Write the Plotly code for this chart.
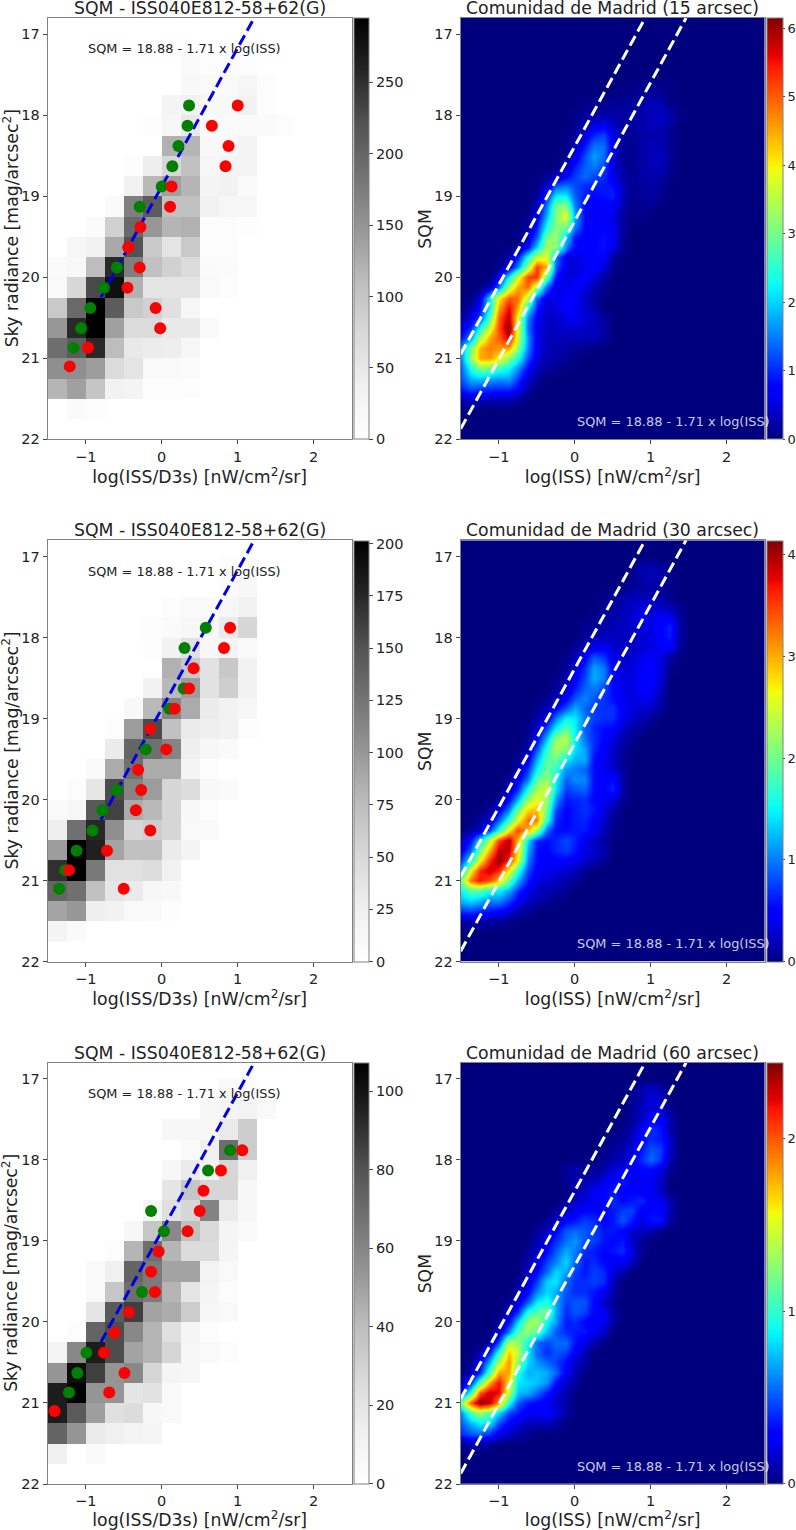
import plotly.graph_objects as go

FONT = "DejaVu Sans"
W, H = 796, 1530

# ---------- Left-hand 2D histograms: bin lower edge in SQM -> (first column, counts)
hist_15 = {
    17.25: (7, [12, 8, 8, 8]),
    17.5: (7, [18, 12, 14, 22, 8]),
    17.75: (6, [26, 32, 18, 18, 32, 8]),
    18.0: (5, [5, 22, 48, 12, 12, 14, 12, 8]),
    18.25: (6, [122, 118, 18, 18, 26]),
    18.5: (4, [5, 40, 77, 105, 22, 26, 26]),
    18.75: (4, [32, 114, 138, 118, 26, 32, 12]),
    19.0: (3, [12, 172, 210, 105, 105, 32, 22, 22]),
    19.25: (2, [10, 84, 195, 147, 118, 122, 8, 8, 5]),
    19.5: (1, [22, 32, 130, 220, 95, 56, 95, 8, 8]),
    19.75: (0, [12, 18, 110, 255, 172, 105, 84, 70, 12, 10]),
    20.0: (0, [14, 77, 228, 280, 122, 56, 56, 56, 14, 8]),
    20.25: (0, [95, 195, 295, 210, 95, 84, 62, 22]),
    20.5: (0, [147, 255, 295, 138, 70, 70, 48, 48, 12]),
    20.75: (0, [190, 210, 255, 110, 48, 44, 40, 22]),
    21.0: (0, [155, 155, 142, 70, 56, 14, 14, 10]),
    21.25: (0, [118, 138, 100, 32, 26, 8, 8, 5]),
    21.5: (1, [12, 8]),
}
hist_30 = {
    17.0: (9, [3, 3]),
    17.25: (9, [5, 14]),
    17.5: (6, [5, 10, 8, 14, 22]),
    17.75: (5, [5, 8, 14, 14, 31, 53]),
    18.0: (5, [3, 22, 42, 14, 18, 8]),
    18.25: (6, [83, 66, 40, 66, 22]),
    18.5: (5, [22, 78, 97, 40, 60, 22]),
    18.75: (4, [12, 78, 113, 87, 31, 22, 14]),
    19.0: (3, [5, 97, 155, 72, 31, 26, 22, 5]),
    19.25: (3, [31, 137, 128, 113, 26, 14, 8]),
    19.5: (2, [10, 87, 128, 87, 87, 18, 5]),
    19.75: (1, [5, 36, 155, 113, 97, 53, 46, 12, 8]),
    20.0: (0, [8, 14, 146, 160, 87, 78, 53, 12, 5]),
    20.25: (0, [26, 128, 175, 106, 53, 60, 53, 10, 8]),
    20.5: (0, [97, 201, 180, 92, 72, 72, 31, 18]),
    20.75: (0, [170, 201, 122, 42, 42, 46, 22]),
    21.0: (0, [137, 128, 72, 36, 31, 14, 12]),
    21.25: (0, [92, 100, 26, 22, 10, 8, 3]),
    21.5: (0, [18, 8]),
}
hist_60 = {
    17.0: (9, [5, 3]),
    17.25: (8, [7, 9, 11, 5]),
    17.5: (6, [7, 7, 7, 17, 33]),
    17.75: (7, [5, 13, 69, 33]),
    18.0: (6, [7, 17, 11, 28, 13]),
    18.25: (6, [20, 36, 28, 28, 7]),
    18.5: (5, [9, 23, 28, 61, 17, 7]),
    18.75: (4, [7, 36, 59, 39, 26, 9, 5]),
    19.0: (3, [3, 43, 69, 43, 25, 25, 9]),
    19.25: (2, [5, 13, 73, 64, 49, 49, 11, 5]),
    19.5: (2, [5, 36, 69, 64, 43, 20, 9, 3]),
    19.75: (2, [20, 77, 86, 49, 46, 33, 7, 5]),
    20.0: (1, [3, 73, 82, 59, 43, 23, 9, 3]),
    20.25: (0, [11, 59, 97, 82, 49, 43, 28, 7, 5, 3]),
    20.5: (0, [54, 102, 86, 54, 59, 28, 9, 7]),
    20.75: (0, [97, 107, 54, 54, 20, 22, 5]),
    21.0: (0, [97, 77, 51, 23, 25, 7, 5]),
    21.25: (0, [73, 54, 17, 13, 11, 9]),
    21.5: (0, [13, 0, 5]),
}
hist_x_edges = [-1.5 + 0.25 * i for i in range(14)]
hist_y_edges = [17.0 + 0.25 * i for i in range(20)]

# ---------- Right-hand density maps: SQM row -> (first column, density)
dens_x = [-1.5 + 0.125 * i for i in range(33)]
dens_y = [16.75 + 0.125 * i for i in range(43)]

dens_15 = {
    17.625: (18, [.03, .06, .1, .06, .03]),
    17.75: (16, [.03, .05, .08, .1, .18, .14, .04]),
    17.875: (13, [.05, .08, .1, .12, .15, .18, .22, .32, .28, .07]),
    18.0: (12, [.05, .15, .2, .2, .22, .18, .18, .22, .33, .38, .28, .07]),
    18.125: (12, [.08, .25, .5, .65, .35, .15, .18, .24, .3, .3, .15]),
    18.25: (11, [.03, .15, .5, 1.0, 1.15, .6, .15, .1, .2, .25, .25, .12]),
    18.375: (11, [.05, .3, .9, 1.45, 1.4, .6, .1, .1, .2, .28, .28, .1]),
    18.5: (11, [.1, .5, 1.2, 1.7, 1.4, .5, .1, .1, .2, .3, .33, .12]),
    18.625: (10, [.05, .3, .9, 1.3, 1.5, 1.2, .5, .15, .1, .2, .3, .3, .1]),
    18.75: (9, [.1, .3, .7, 1.1, 1.4, 1.2, 1.0, .55, .2, .1, .2, .25, .2, .05]),
    18.875: (8, [.05, .4, 1.3, 1.5, 1.2, 1.0, .9, .9, .85, .3, .1, .15, .2, .15]),
    19.0: (8, [.15, 1.0, 2.2, 2.2, 1.3, .9, .8, .85, .95, .35, .08, .15, .2, .1]),
    19.125: (8, [.35, 1.5, 3.0, 3.2, 1.5, .8, .65, .7, .65, .25, .05, .1, .12]),
    19.25: (7, [.1, .6, 1.9, 3.1, 3.9, 1.8, .8, .65, .65, .55, .15, .05, .05]),
    19.375: (7, [.2, .9, 2.4, 3.1, 3.0, 1.5, .75, .65, .7, .6, .15]),
    19.5: (6, [.05, .4, 1.3, 3.0, 3.3, 2.0, .9, .7, .75, .85, .65, .12]),
    19.625: (6, [.1, .8, 2.0, 3.4, 3.2, 1.6, .75, .65, .75, .85, .6, .1]),
    19.75: (5, [.2, .9, 2.4, 3.6, 3.8, 1.5, .55, .5, .65, .8, .7, .15]),
    19.875: (4, [.1, .5, 1.6, 3.3, 5.2, 4.4, 1.3, .55, .45, .6, .75, .5, .1]),
    20.0: (4, [.6, 2.2, 3.7, 5.2, 5.3, 2.8, .8, .5, .55, .7, .5, .2]),
    20.125: (3, [.3, 1.4, 3.4, 4.5, 4.9, 3.3, 1.3, .55, .55, .7, .55, .25, .1]),
    20.25: (2, [.5, 2.2, 4.0, 5.0, 4.9, 3.5, 1.3, .5, .55, .75, .65, .35, .15]),
    20.375: (0, [.05, .25, .8, 2.2, 4.5, 5.6, 4.5, 2.3, .9, .4, .5, .7, .65, .45, .25]),
    20.5: (0, [.2, .5, 1.2, 2.8, 5.0, 5.9, 3.8, 1.5, .7, .35, .4, .55, .65, .45, .35, .15]),
    20.625: (0, [.5, 1.0, 2.3, 3.7, 5.1, 6.15, 3.8, 1.4, .6, .35, .35, .4, .4, .4, .35, .2]),
    20.75: (0, [.8, 1.6, 3.4, 4.5, 5.0, 5.7, 3.6, 1.6, .6, .3, .3, .3, .28, .28, .28, .15]),
    20.875: (0, [1.6, 3.0, 4.4, 4.8, 4.6, 4.5, 3.2, 1.5, .6, .3, .25, .2, .15, .1]),
    21.0: (0, [1.5, 3.2, 4.5, 4.6, 4.0, 3.2, 2.4, 1.2, .5, .25, .2, .15]),
    21.125: (0, [1.3, 2.4, 3.1, 3.0, 2.6, 2.3, 1.6, .8, .3, .15, .1]),
    21.25: (0, [1.2, 1.8, 1.9, 1.7, 1.6, 1.7, 1.1, .4, .15]),
    21.375: (0, [.9, 1.2, 1.1, 1.0, 1.0, 1.0, .7, .2]),
    21.5: (0, [.3, .4, .35, .3, .3, .3, .15]),
}
dens_30 = {
    17.125: (18, [.05, .15, .2, .1]),
    17.25: (18, [.05, .15, .2, .15, .05]),
    17.375: (16, [.03, .05, .1, .12, .15, .1, .03]),
    17.5: (15, [.05, .1, .15, .2, .2, .2, .15, .05]),
    17.625: (15, [.05, .12, .2, .25, .35, .3, .25, .2, .05]),
    17.75: (14, [.05, .1, .15, .2, .3, .4, .35, .45, .45, .1]),
    17.875: (13, [.08, .12, .15, .2, .22, .25, .35, .35, .5, .65, .15]),
    18.0: (13, [.1, .2, .25, .22, .22, .25, .3, .35, .5, .6, .12]),
    18.125: (12, [.1, .2, .4, .45, .3, .25, .25, .3, .35, .45, .45, .1]),
    18.25: (11, [.05, .2, .5, .9, .75, .4, .25, .3, .4, .45, .35, .1]),
    18.375: (11, [.1, .3, .7, 1.15, 1.0, .45, .3, .35, .45, .5, .35, .05]),
    18.5: (10, [.05, .15, .45, .8, 1.2, 1.0, .5, .35, .35, .5, .5, .3]),
    18.625: (10, [.1, .25, .6, .9, 1.0, .8, .5, .4, .35, .45, .45, .25]),
    18.75: (9, [.05, .2, .45, .85, 1.05, .85, .7, .55, .4, .35, .4, .4, .15]),
    18.875: (8, [.05, .2, .5, .85, 1.2, .9, .75, .7, .7, .45, .35, .3, .25, .1]),
    19.0: (8, [.15, .4, 1.0, 1.5, 1.45, 1.0, .75, .7, .7, .4, .25, .2, .1]),
    19.125: (7, [.05, .3, .8, 1.5, 1.9, 1.5, .9, .65, .55, .5, .25, .15, .08]),
    19.25: (7, [.1, .5, 1.3, 2.2, 2.4, 1.5, .95, .7, .5, .35, .15, .08]),
    19.375: (7, [.2, .85, 1.7, 2.3, 2.1, 1.4, 1.15, .65, .45, .25, .12]),
    19.5: (6, [.1, .4, 1.2, 1.9, 1.95, 1.5, 1.2, 1.2, .55, .4, .25, .08]),
    19.625: (6, [.2, .7, 1.5, 2.0, 1.7, 1.1, 1.0, .9, .55, .4, .3, .08]),
    19.75: (5, [.1, .4, 1.0, 1.9, 2.2, 1.5, .9, 1.05, 1.05, .55, .45, .55, .15]),
    19.875: (5, [.2, .7, 1.6, 2.3, 2.5, 1.4, .75, .85, .9, .55, .5, .65, .15]),
    20.0: (4, [.1, .5, 1.2, 2.2, 2.6, 2.2, 1.1, .6, .65, .7, .5, .4, .35, .08]),
    20.125: (3, [.1, .35, 1.0, 2.0, 2.8, 2.9, 2.0, .8, .5, .6, .7, .6, .35, .15]),
    20.25: (2, [.1, .3, .9, 1.7, 2.6, 3.3, 3.2, 1.7, .65, .5, .6, .65, .5, .25, .08]),
    20.375: (1, [.1, .3, .8, 1.6, 2.7, 3.5, 3.0, 2.2, .9, .55, .55, .6, .6, .42, .2, .08]),
    20.5: (0, [.2, .6, 1.4, 2.4, 3.5, 4.0, 2.9, 1.4, .65, .55, .65, .8, .65, .4, .25, .12]),
    20.625: (0, [.4, .9, 2.0, 3.0, 3.9, 3.9, 2.8, 1.2, .55, .5, .65, .75, .6, .35, .28, .18]),
    20.75: (0, [.7, 1.5, 2.6, 3.6, 4.1, 3.6, 2.6, 1.0, .55, .45, .5, .5, .4, .3, .2, .08]),
    20.875: (0, [1.2, 2.6, 3.6, 3.9, 3.6, 2.7, 1.7, .8, .45, .4, .35, .3, .2, .1]),
    21.0: (0, [2.0, 3.3, 3.7, 3.4, 2.9, 2.0, 1.2, .6, .35, .3, .25, .15, .08]),
    21.125: (0, [1.5, 1.9, 1.9, 1.6, 1.5, 1.2, .7, .4, .25, .2, .15, .08]),
    21.25: (0, [1.2, 1.35, 1.2, 1.0, 1.0, .75, .4, .25, .15, .08]),
    21.375: (0, [.7, .75, .65, .55, .5, .35, .15, .08]),
    21.5: (0, [.1, .15, .15, .1, .1, .05]),
}
dens_60 = {
    17.125: (18, [.03, .1, .15, .1]),
    17.25: (18, [.03, .1, .2, .15]),
    17.375: (18, [.05, .15, .2, .2, .05]),
    17.5: (18, [.05, .15, .3, .3, .1]),
    17.625: (17, [.03, .1, .3, .4, .35, .1]),
    17.75: (16, [.03, .05, .15, .3, .4, .35, .15]),
    17.875: (15, [.03, .05, .1, .2, .35, .5, .45, .15]),
    18.0: (14, [.03, .05, .1, .12, .25, .4, .55, .4, .1]),
    18.125: (11, [.05, .1, .05, .05, .1, .2, .25, .3, .3, .3, .2, .05]),
    18.25: (11, [.05, .1, .1, .12, .2, .3, .35, .3, .25, .25, .15]),
    18.375: (12, [.1, .15, .25, .3, .35, .3, .3, .25, .25, .15]),
    18.5: (11, [.05, .15, .2, .25, .3, .4, .3, .35, .4, .25, .25, .1]),
    18.625: (10, [.05, .15, .25, .3, .3, .3, .35, .45, .45, .25, .3, .3, .1]),
    18.75: (9, [.05, .15, .3, .35, .45, .4, .3, .35, .5, .35, .2, .35, .35, .05]),
    18.875: (8, [.05, .15, .3, .5, .55, .5, .45, .35, .35, .3, .15, .15, .1]),
    19.0: (8, [.1, .25, .4, .55, .65, .5, .45, .35, .3, .35, .15, .05]),
    19.125: (7, [.05, .15, .3, .5, .7, .6, .4, .35, .3, .35, .4, .2, .05]),
    19.25: (7, [.1, .2, .45, .6, .8, .55, .35, .4, .3, .25, .25, .15]),
    19.375: (7, [.15, .3, .55, .8, .7, .45, .35, .45, .4, .2, .1]),
    19.5: (6, [.05, .2, .45, .8, .85, .55, .4, .4, .45, .4, .12]),
    19.625: (6, [.1, .3, .6, .8, .7, .5, .4, .4, .35, .25, .08]),
    19.75: (5, [.05, .2, .5, .85, .95, .7, .45, .5, .5, .3, .15, .05]),
    19.875: (5, [.15, .4, .95, 1.1, 1.2, .7, .4, .5, .45, .3, .25, .08]),
    20.0: (4, [.05, .3, .8, 1.3, 1.35, .9, .65, .35, .4, .3, .25, .25, .08]),
    20.125: (4, [.15, .6, 1.1, 1.3, 1.1, .75, .5, .4, .35, .35, .25, .15]),
    20.25: (3, [.05, .5, 1.4, 1.3, .9, .55, .45, .55, .55, .35, .2, .1]),
    20.375: (2, [.1, .4, 1.0, 1.7, 1.4, .85, .55, .4, .5, .45, .25, .12]),
    20.5: (1, [.05, .25, .75, 1.4, 1.85, 1.25, .8, .65, .55, .45, .3, .15, .08]),
    20.625: (1, [.1, .4, 1.1, 1.8, 1.8, .95, .7, .75, .7, .55, .25, .12]),
    20.75: (0, [.1, .4, 1.1, 1.8, 2.2, 1.6, .85, .8, .75, .65, .3, .15, .08]),
    20.875: (0, [.3, 1.0, 2.0, 2.3, 2.2, 1.4, .75, .7, .55, .35, .2, .12]),
    21.0: (0, [1.2, 2.0, 2.44, 2.3, 1.8, .95, .5, .35, .3, .25, .15, .08]),
    21.125: (0, [.6, 1.1, 1.3, 1.1, .8, .45, .35, .25, .25, .3, .2, .08]),
    21.25: (0, [.5, .7, .85, .8, .45, .28, .18, .12, .12, .12, .08]),
    21.375: (0, [.4, .5, .55, .4, .25, .15, .08, .05]),
    21.5: (0, [.05, .1, .1, .05]),
}

# ---------- Sample points
sqm_levels = [17.88, 18.13, 18.38, 18.63, 18.88, 19.13, 19.38, 19.63, 19.88, 20.13, 20.38, 20.63, 20.87, 21.1]

green_15_x = [.36, .34, .22, .14, 0, -.29, -.59, -.76, -.94, -1.06, -1.16]
green_15_y = [17.88, 18.13, 18.38, 18.63, 18.88, 19.13, 19.88, 20.13, 20.38, 20.63, 20.87]
red_15_x = [1.0, .66, .88, .84, .13, .11, -.28, -.44, -.29, -.45, -.08, -.02, -.97, -1.21]

green_30_x = [.58, .30, .29, .10, -.21, -.59, -.78, -.91, -1.12, -1.27, -1.35]
green_30_y = [17.88, 18.13, 18.63, 18.88, 19.38, 19.88, 20.13, 20.38, 20.63, 20.87, 21.1]
red_30_x = [.90, .82, .42, .36, .17, -.15, .06, -.31, -.27, -.34, -.15, -.72, -1.22, -.5]

green_60_x = [.90, .61, -.14, .03, -.26, -.99, -1.11, -1.22]
green_60_y = [17.88, 18.13, 18.63, 18.88, 19.63, 20.38, 20.63, 20.87]
red_60_x = [1.06, .78, .55, .50, .34, -.04, -.14, -.09, -.43, -.62, -.76, -.49, -.69, -1.41]

# ---------- Fit lines
fit_x = [-0.8, 1.216]
fit_y = [20.248, 16.8]
upper_x = [-1.5, 0.927]
upper_y = [20.95, 16.8]
lower_x = [-1.5, 1.465]
lower_y = [21.87, 16.8]

# ---------- Text
left_title = "SQM - ISS040E812-58+62(G)"
right_titles = ["Comunidad de Madrid (15 arcsec)", "Comunidad de Madrid (30 arcsec)", "Comunidad de Madrid (60 arcsec)"]
formula = "SQM = 18.88 - 1.71 x log(ISS)"
left_xlabel = "log(ISS/D3s) [nW/cm<sup>2</sup>/sr]"
right_xlabel = "log(ISS) [nW/cm<sup>2</sup>/sr]"
left_ylabel = "Sky radiance [mag/arcsec<sup>2</sup>]"
right_ylabel = "SQM"

x_ticks = [-1, 0, 1, 2]
y_ticks = [17, 18, 19, 20, 21, 22]

greys = [[0, "#ffffff"], [.125, "#f0f0f0"], [.25, "#d9d9d9"], [.375, "#bdbdbd"], [.5, "#969696"],
         [.625, "#737373"], [.75, "#525252"], [.875, "#252525"], [1, "#000000"]]
jet = [[0, "#00007f"], [.11, "#0000ff"], [.125, "#0000ff"], [.35, "#00f0ff"], [.375, "#0fffef"],
       [.5, "#7fff7f"], [.64, "#efff0f"], [.66, "#ffea00"], [.89, "#ff1300"], [.91, "#e80000"], [1, "#7f0000"]]

rows_px = [(18.0, 439.3), (540.3, 961.7), (1062.7, 1484.0)]
left_x_px = (47.7, 351.7)
right_x_px = (460.7, 764.7)
left_cb_px = (354.0, 15.3)
right_cb_px = (766.7, 16.0)
TICK = 14.5
LABEL = 17.3


def expand(rows, ys, ncols):
    grid = [[0.0] * ncols for _ in ys]
    for key, (start, vals) in rows.items():
        r = min(range(len(ys)), key=lambda k: abs(ys[k] - key))
        for j, v in enumerate(vals):
            grid[r][start + j] = v
    return grid


def cbar(x_px, thick, row, ticks, size, ticklen):
    top, bot = rows_px[row]
    return dict(
        x=x_px / W, xanchor="left", xpad=0, ypad=0,
        y=1 - (top + bot) / 2 / H, yanchor="middle", len=(bot - top) / H, lenmode="fraction",
        thickness=thick, thicknessmode="pixels", outlinecolor="#808080", outlinewidth=1,
        tickmode="array", tickvals=ticks, ticks="outside", ticklen=ticklen, tickcolor="#444444",
        tickfont=dict(family=FONT, size=size, color="#222222"),
    )


fig = go.Figure()

left_cfg = [
    (hist_15, 295, list(range(0, 251, 50)), green_15_x, green_15_y, red_15_x),
    (hist_30, 201.5, list(range(0, 201, 25)), green_30_x, green_30_y, red_30_x),
    (hist_60, 107.2, list(range(0, 101, 20)), green_60_x, green_60_y, red_60_x),
]
right_cfg = [
    (dens_15, 6.15, [0, 1, 2, 3, 4, 5, 6]),
    (dens_30, 4.14, [0, 1, 2, 3, 4]),
    (dens_60, 2.44, [0, 1, 2]),
]

layout = dict(width=W, height=H, margin=dict(l=0, r=0, t=0, b=0, autoexpand=False), paper_bgcolor="white",
              plot_bgcolor="white", showlegend=False, font=dict(family=FONT, color="#222222"))
annotations = []


def set_axes(n, x_px, row, xlabel):
    top, bot = rows_px[row]
    suffix = "" if n == 1 else str(n)
    common = dict(showgrid=False, zeroline=False, showline=True, mirror=True, linecolor="#808080",
                  linewidth=1, ticks="outside", ticklen=4, tickcolor="#444444",
                  tickfont=dict(family=FONT, size=TICK, color="#222222"), tickmode="array")
    layout["xaxis" + suffix] = dict(domain=[x_px[0] / W, x_px[1] / W], range=[-1.5, 2.5], tickvals=x_ticks,
                                    anchor="y" + suffix, **common,
                                    title=dict(text=xlabel, font=dict(family=FONT, size=LABEL, color="#222222"), standoff=6))
    layout["yaxis" + suffix] = dict(domain=[1 - bot / H, 1 - top / H], range=[22, 16.8], tickvals=y_ticks,
                                    anchor="x" + suffix, **common)


def y_label(text, x_px, row):
    top, bot = rows_px[row]
    annotations.append(dict(text=text, xref="paper", yref="paper", x=x_px / W, y=1 - (top + bot) / 2 / H,
                            xanchor="center", yanchor="middle", textangle=-90, showarrow=False,
                            font=dict(family=FONT, size=LABEL, color="#222222")))


for row in range(3):
    rows, zmax, cticks, gx, gy, rx = left_cfg[row]
    n = row * 2 + 1
    s = "" if n == 1 else str(n)
    set_axes(n, left_x_px, row, left_xlabel)
    y_label(left_ylabel, 10.5, row)
    fig.add_trace(go.Heatmap(x=hist_x_edges, y=hist_y_edges, z=expand(rows, hist_y_edges[:-1], 13),
                             zmin=0, zmax=zmax, colorscale=greys, xaxis="x" + s, yaxis="y" + s,
                             colorbar=cbar(left_cb_px[0], left_cb_px[1], row, cticks, TICK, 4)))
    fig.add_trace(go.Scatter(x=fit_x, y=fit_y, mode="lines", xaxis="x" + s, yaxis="y" + s,
                             line=dict(color="#0000e0", width=3, dash="11px,5px")))
    fig.add_trace(go.Scatter(x=gx, y=gy, mode="markers", xaxis="x" + s, yaxis="y" + s,
                             marker=dict(color="#008000", size=12)))
    fig.add_trace(go.Scatter(x=rx, y=sqm_levels, mode="markers", xaxis="x" + s, yaxis="y" + s,
                             marker=dict(color="#ff0000", size=12)))
    annotations.append(dict(text=left_title, xref="x%s domain" % s, yref="y%s domain" % s, x=0.5, y=1,
                            yanchor="bottom", yshift=-2, showarrow=False,
                            font=dict(family=FONT, size=LABEL, color="#222222")))
    annotations.append(dict(text=formula, xref="x" + s, yref="y" + s, x=-1.0, y=17.18, xanchor="left",
                            yanchor="middle", showarrow=False, font=dict(family=FONT, size=12.9, color="#222222")))

    rows, zmax, cticks = right_cfg[row]
    n = row * 2 + 2
    s = str(n)
    set_axes(n, right_x_px, row, right_xlabel)
    y_label(right_ylabel, 425, row)
    fig.add_trace(go.Heatmap(x=dens_x, y=dens_y, z=expand(rows, dens_y, len(dens_x)), zsmooth="best",
                             zmin=0, zmax=zmax, colorscale=jet, xaxis="x" + s, yaxis="y" + s,
                             colorbar=cbar(right_cb_px[0], right_cb_px[1], row, cticks, 13, 2)))
    for lx, ly in ((upper_x, upper_y), (lower_x, lower_y)):
        fig.add_trace(go.Scatter(x=lx, y=ly, mode="lines", xaxis="x" + s, yaxis="y" + s,
                                 line=dict(color="white", width=3, dash="11px,5px")))
    annotations.append(dict(text=right_titles[row], xref="x%s domain" % s, yref="y%s domain" % s, x=0.5, y=1,
                            yanchor="bottom", yshift=-2, showarrow=False,
                            font=dict(family=FONT, size=LABEL, color="#222222")))
    annotations.append(dict(text=formula, xref="x" + s, yref="y" + s, x=0.0, y=21.78, xanchor="left",
                            yanchor="middle", showarrow=False,
                            font=dict(family=FONT, size=12.9, color="rgba(255,255,255,0.8)")))

layout["annotations"] = annotations
fig.update_layout(**layout)
fig.write_html("out.html", post_script="document.body.style.margin='0';", config={"displayModeBar": False})
